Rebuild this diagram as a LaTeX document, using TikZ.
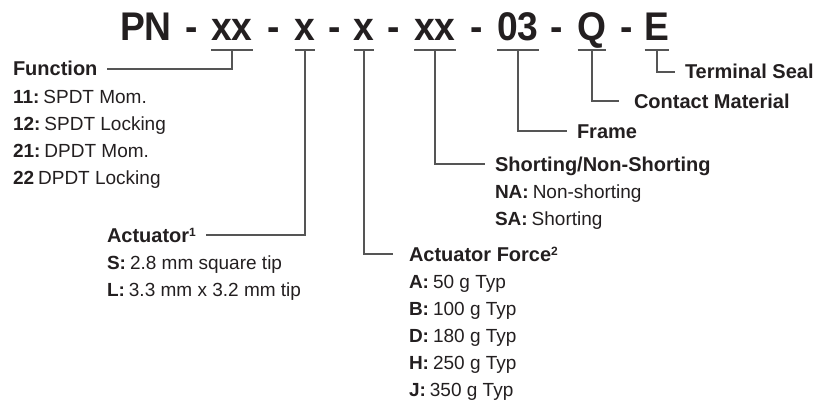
\documentclass[tikz,border=0pt]{standalone}
\usepackage{fontspec}
\setmainfont{Liberation Sans}
\newfontfamily\titlefont[FakeStretch=0.93]{Liberation Sans}
\usetikzlibrary{calc}
\definecolor{ink}{HTML}{231F20}
\definecolor{wirec}{HTML}{555555}
\newcommand{\supnum}[1]{\raisebox{0.55ex}{\fontsize{12}{12}\selectfont\bfseries #1}}
\newcommand{\gp}{\hspace{4pt}}
\begin{document}
\begin{tikzpicture}[x=1pt,y=-1pt,
  every node/.style={inner sep=0pt, outer sep=0pt, text=ink},
  ttl/.style={font=\titlefont\bfseries\fontsize{40}{40}\selectfont, anchor=base},
  head/.style={font=\bfseries\fontsize{20}{24}\selectfont, anchor=base west},
  item/.style={font=\fontsize{19}{23}\selectfont, anchor=base west},
  wire/.style={draw=wirec, line width=1.2pt},
]
\useasboundingbox (0,0) rectangle (817,404);

% title pieces
\node[ttl] (pn) at (146,41) {PN};
\node[ttl] (d1) at (192,41) {-};
\node[ttl] (c1) at (232,41) {xx};
\node[ttl] (d2) at (274,41) {-};
\node[ttl] (c2) at (305,41) {x};
\node[ttl] (d3) at (335,41) {-};
\node[ttl] (c3) at (364,41) {x};
\node[ttl] (d4) at (394,41) {-};
\node[ttl] (c4) at (435,41) {xx};
\node[ttl] (d5) at (477,41) {-};
\node[ttl] (c5) at (518,41) {03};
\node[ttl] (d6) at (557,41) {-};
\node[ttl] (c6) at (592,41) {Q};
\node[ttl] (d7) at (627,41) {-};
\node[ttl] (c7) at (657,41) {E};

\foreach \n in {c1,c2,c3,c4,c5,c6,c7}
  \draw[wire] ($(\n.base west)+(0,9)$) -- ($(\n.base east)+(0,9)$);

% Function
\node[head] (fn) at (13,76) {Function};
\node[item] (f1) at (13,103) {\textbf{11:}\gp SPDT Mom.};
\node[item] (f2) at (13,130) {\textbf{12:}\gp SPDT Locking};
\node[item] (f3) at (13,157) {\textbf{21:}\gp DPDT Mom.};
\node[item] (f4) at (13,184) {\textbf{22}\gp DPDT Locking};

% Actuator
\node[head] (act) at (107,242) {Actuator\supnum{1}};
\node[item] (a1) at (107,269) {\textbf{S:}\gp 2.8 mm square tip};
\node[item] (a2) at (107,296) {\textbf{L:}\gp 3.3 mm x 3.2 mm tip};

% Actuator Force
\node[head] (frc) at (409,261) {Actuator Force\supnum{2}};
\node[item] (r1) at (409,288) {\textbf{A:}\gp 50 g Typ};
\node[item] (r2) at (409,315) {\textbf{B:}\gp 100 g Typ};
\node[item] (r3) at (409,342) {\textbf{D:}\gp 180 g Typ};
\node[item] (r4) at (409,369) {\textbf{H:}\gp 250 g Typ};
\node[item] (r5) at (409,396) {\textbf{J:}\gp 350 g Typ};

% Shorting
\node[head] (sh) at (495,171) {Shorting/Non-Shorting};
\node[item] (s1) at (495,198) {\textbf{NA:}\gp Non-shorting};
\node[item] (s2) at (495,225) {\textbf{SA:}\gp Shorting};

% Frame, Contact, Terminal
\node[head] (fr) at (577,138) {Frame};
\node[head] (cm) at (634,108) {Contact Material};
\node[head] (ts) at (685,79) {Terminal Seal};

% connectors
\draw[wire] ($(c1.base)+(0,9)$) |- ($(fn.base east)+(10,-7)$);
\draw[wire] ($(c2.base)+(0,9)$) |- ($(act.base east)+(10,-7)$);
\draw[wire] ($(c3.base)+(0,9)$) |- ($(frc.base west)+(-16,-7)$);
\draw[wire] ($(c4.base)+(0,9)$) |- ($(sh.base west)+(-10,-7)$);
\draw[wire] ($(c5.base)+(0,9)$) |- ($(fr.base west)+(-10,-7)$);
\draw[wire] ($(c6.base)+(0,9)$) |- ($(cm.base west)+(-15,-7)$);
\draw[wire] ($(c7.base)+(0,9)$) |- ($(ts.base west)+(-10,-7)$);
\end{tikzpicture}
\end{document}
